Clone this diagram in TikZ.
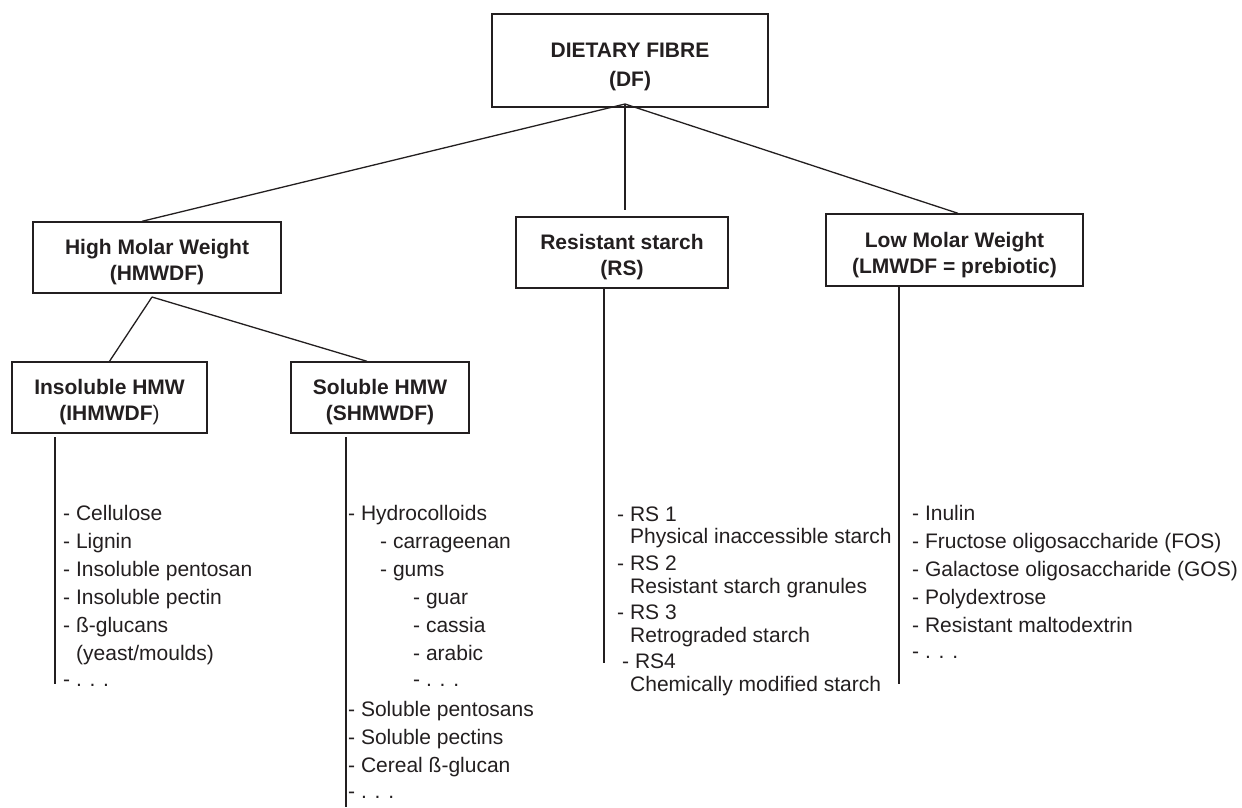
\documentclass[tikz,border=0pt]{standalone}
\usepackage{fontspec}
\setmainfont{Liberation Sans}
\definecolor{ink}{HTML}{231F20}
\newcommand\myup[1]{\rule{0pt}{#1}}
\tikzset{
  box/.style={draw=ink, line width=1.4pt, inner sep=0pt, align=center, text=ink,
              font=\fontsize{21}{26}\selectfont\bfseries},
  conn/.style={draw=ink, line width=1.3pt},
  item/.style={anchor=base west, inner sep=0pt, text=ink, font=\fontsize{21}{25}\selectfont},
}
\begin{document}
\begin{tikzpicture}[x=1pt,y=-1pt]
\useasboundingbox[fill=white] (0,0) rectangle (1242,807);

% boxes
\node[box, minimum width=276pt, minimum height=93pt, font=\fontsize{21}{29}\selectfont\bfseries] (df) at (630,60.5) {\myup{26.5pt}DIETARY FIBRE\\(DF)};
\node[box, minimum width=248pt, minimum height=71pt] (hmw) at (157,257.5) {\myup{24.5pt}High Molar Weight\\(HMWDF)};
\node[box, minimum width=212pt, minimum height=71pt] (rs) at (622,252.5) {\myup{24.5pt}Resistant starch\\(RS)};
\node[box, minimum width=257pt, minimum height=72pt] (lmw) at (954.5,250) {\myup{24.5pt}Low Molar Weight\\(LMWDF = prebiotic)};
\node[box, minimum width=195pt, minimum height=71pt] (ins) at (109.5,397.5) {\myup{24.5pt}Insoluble HMW\\(IHMWDF{\mdseries )}};
\node[box, minimum width=178pt, minimum height=71pt] (sol) at (380,397.5) {\myup{24.5pt}Soluble HMW\\(SHMWDF)};

% connectors
\coordinate (dfb) at (625,104);
\draw[conn] (dfb) -- ([xshift=-15pt]hmw.north);
\draw[conn] (dfb) -- ([xshift=3pt,yshift=6pt]rs.north);
\draw[conn] (dfb) -- ([xshift=3.5pt]lmw.north);
\coordinate (hmb) at (152,297);
\draw[conn] (hmb) -- (ins.north);
\draw[conn] (hmb) -- ([xshift=-13pt]sol.north);

% list lines
\coordinate (insTop) at (55,437);  \coordinate (insEnd) at (55,684);
\draw[conn] (insTop) -- (insEnd);
\coordinate (solTop) at (346,437); \coordinate (solEnd) at (346,807);
\draw[conn] (solTop) -- (solEnd);
\coordinate (rsEnd) at (604,663);
\draw[conn] (rs.south -| rsEnd) -- (rsEnd);
\coordinate (lmwEnd) at (899,684);
\draw[conn] (lmw.south -| lmwEnd) -- (lmwEnd);

% insoluble list
\node[item] (i1) at (63,520) {- Cellulose};
\node[item] (i2) at (63,548) {- Lignin};
\node[item] (i3) at (63,576) {- Insoluble pentosan};
\node[item] (i4) at (63,604) {- Insoluble pectin};
\node[item] (i5) at (63,632) {- ß-glucans};
\node[item] (i6) at (76,660) {(yeast/moulds)};
\node[item] (i7) at (63,686) {- . . .};

% soluble list
\node[item] (s1) at (348,520) {- Hydrocolloids};
\node[item] (s2) at (380,548) {- carrageenan};
\node[item] (s3) at (380,576) {- gums};
\node[item] (s4) at (413,604) {- guar};
\node[item] (s5) at (413,632) {- cassia};
\node[item] (s6) at (413,660) {- arabic};
\node[item] (s7) at (413,686) {- . . .};
\node[item] (s8) at (348,716) {- Soluble pentosans};
\node[item] (s9) at (348,744) {- Soluble pectins};
\node[item] (s10) at (348,772) {- Cereal ß-glucan};
\node[item] (s11) at (348,798) {- . . .};

% RS list
\node[item] (r1) at (617,521) {- RS 1};
\node[item] (r2) at (630,543) {Physical inaccessible starch};
\node[item] (r3) at (617,570) {- RS 2};
\node[item] (r4) at (630,593) {Resistant starch granules};
\node[item] (r5) at (617,619) {- RS 3};
\node[item] (r6) at (630,642) {Retrograded starch};
\node[item] (r7) at (622,668) {- RS4};
\node[item] (r8) at (630,691) {Chemically modified starch};

% LMW list
\node[item] (l1) at (912,520) {- Inulin};
\node[item] (l2) at (912,548) {- Fructose oligosaccharide (FOS)};
\node[item] (l3) at (912,576) {- Galactose oligosaccharide (GOS)};
\node[item] (l4) at (912,604) {- Polydextrose};
\node[item] (l5) at (912,632) {- Resistant maltodextrin};
\node[item] (l6) at (912,658) {- . . .};
\end{tikzpicture}
\end{document}
